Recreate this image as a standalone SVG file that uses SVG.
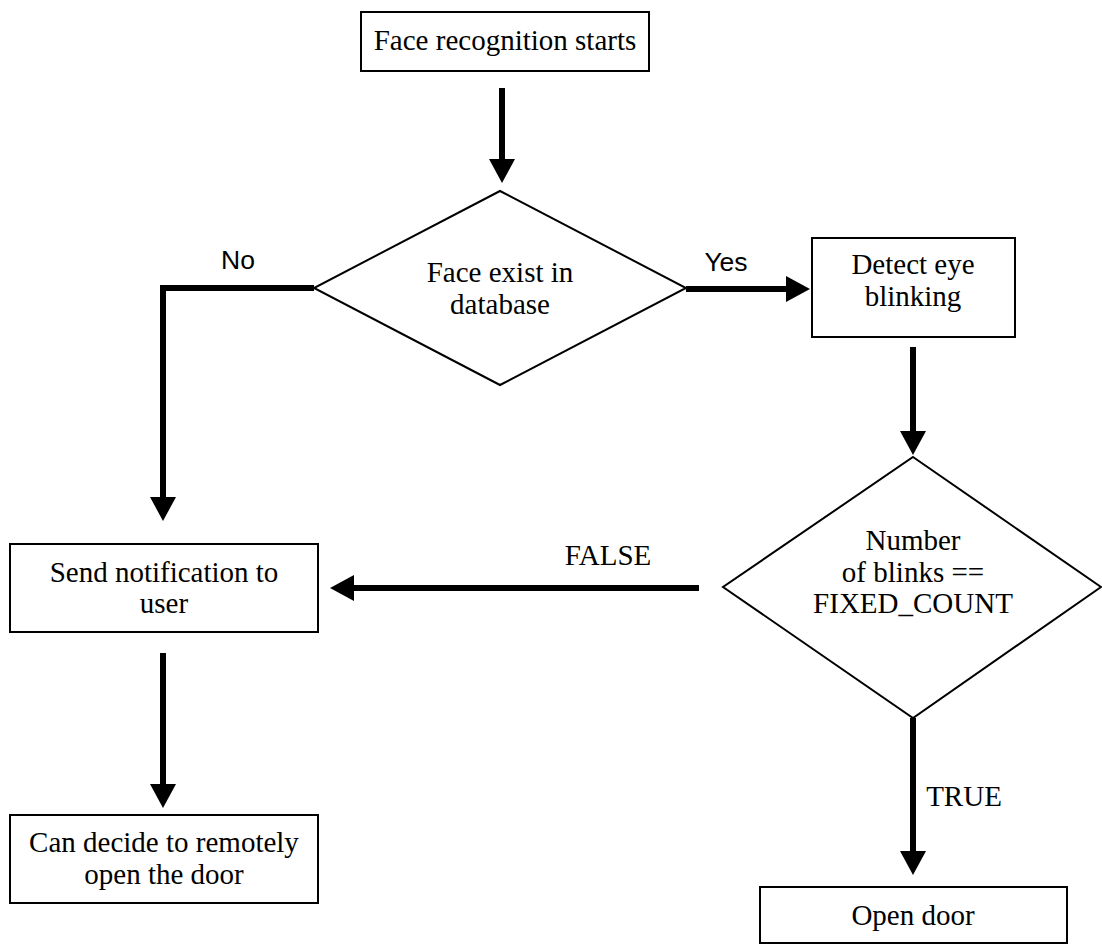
<svg xmlns="http://www.w3.org/2000/svg" width="1102" height="946" viewBox="0 0 1102 946">
<style>
  .box { fill: #fff; stroke: #000; stroke-width: 2; }
  .t { font-family: "Liberation Serif", "Times New Roman", serif; font-size: 29px; fill: #000; text-anchor: middle; }
  .s { font-family: "Liberation Sans", Arial, sans-serif; font-size: 26.5px; fill: #000; text-anchor: middle; }
  .c { fill: none; stroke: #000; stroke-width: 6; marker-end: url(#ah); }
</style>
<defs>
  <marker id="ah" markerUnits="userSpaceOnUse" markerWidth="24" markerHeight="26" viewBox="0 0 24 26" refX="1" refY="13" orient="auto">
    <path d="M0,0 L24,13 L0,26 z" fill="#000"/>
  </marker>
</defs>
<rect width="1102" height="946" fill="#fff"/>
<g id="connectors">
  <path class="c" d="M502,88 V160"/>
  <path class="c" d="M314,288 H163 V498"/>
  <path class="c" d="M686,289 H787"/>
  <path class="c" d="M913,347 V432"/>
  <path class="c" d="M699,588 H353"/>
  <path class="c" d="M163,653 V785"/>
  <path class="c" d="M913,718 V852"/>
  <text class="s" x="238" y="269">No</text>
  <text class="s" x="726" y="271">Yes</text>
  <text class="t" x="608" y="565">FALSE</text>
  <text class="t" x="964" y="806">TRUE</text>
</g>
<g id="start">
  <rect class="box" x="361" y="12" width="288" height="59"/>
  <text class="t" x="505" y="50">Face recognition starts</text>
</g>
<g id="faceExist">
  <polygon class="box" points="500,191 686,288 500,385 314,288"/>
  <text class="t" x="500" y="282">Face exist in</text>
  <text class="t" x="500" y="314">database</text>
</g>
<g id="detectBlink">
  <rect class="box" x="812" y="238" width="203" height="99"/>
  <text class="t" x="913" y="274">Detect eye</text>
  <text class="t" x="913" y="306">blinking</text>
</g>
<g id="blinkCount">
  <polygon class="box" points="913,457 1101,587 913,718 723,587"/>
  <text class="t" x="913" y="550">Number</text>
  <text class="t" x="913" y="582">of blinks ==</text>
  <text class="t" x="913" y="613">FIXED_COUNT</text>
</g>
<g id="notify">
  <rect class="box" x="10" y="544" width="308" height="88"/>
  <text class="t" x="164" y="582">Send notification to</text>
  <text class="t" x="164" y="613">user</text>
</g>
<g id="remoteOpen">
  <rect class="box" x="10" y="815" width="308" height="88"/>
  <text class="t" x="164" y="852">Can decide to remotely</text>
  <text class="t" x="164" y="884">open the door</text>
</g>
<g id="openDoor">
  <rect class="box" x="760" y="887" width="307" height="56"/>
  <text class="t" x="913" y="925">Open door</text>
</g>
</svg>
